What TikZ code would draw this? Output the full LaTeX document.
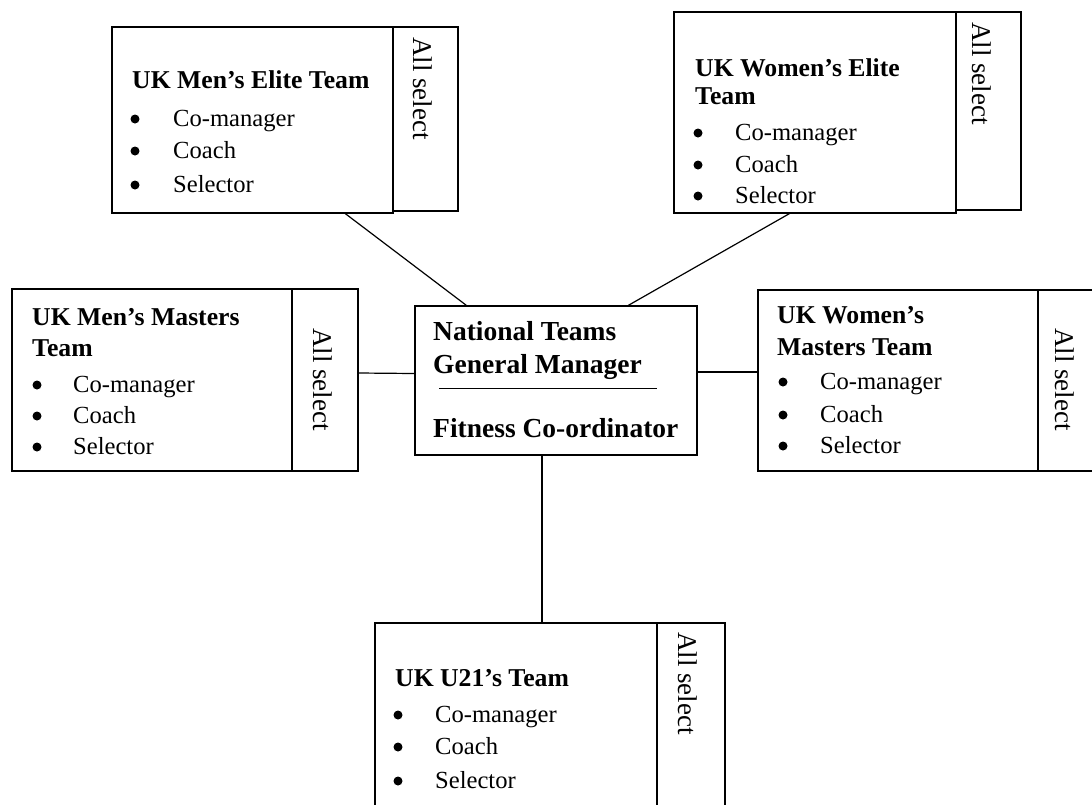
\documentclass[tikz,border=0pt]{standalone}
\usepackage{fontspec}
\setmainfont{Liberation Serif}
\usetikzlibrary{calc}
\tikzset{
  teambox/.style={draw, line width=1.3pt, inner sep=0pt},
  link/.style={line width=1.2pt},
  divline/.style={line width=1.4pt},
  headtxt/.style={font=\fontsize{25.7}{28}\selectfont\bfseries, anchor=base west, inner sep=0pt},
  itemtxt/.style={font=\fontsize{24.6}{28}\selectfont, anchor=base west, inner sep=0pt},
  ctrtxt/.style={font=\fontsize{27.5}{30}\selectfont\bfseries, anchor=base west, inner sep=0pt},
  vertxt/.style={font=\fontsize{27}{30}\selectfont, rotate=-90, anchor=west, inner sep=0pt},
  bul/.style={fill=black}
}
\begin{document}
\begin{tikzpicture}[x=1pt,y=-1pt]
\fill[white] (0,0) rectangle (1092,804);
\useasboundingbox (0,0) rectangle (1092,804);
\clip (0,0) rectangle (1092,804);

% ---------- boxes ----------
\node[teambox, minimum width=281pt, minimum height=186pt] (me) at (252.5,120) {};
\node[teambox, minimum width=65pt, minimum height=184pt] (mes) at (425.5,119) {};
\node[teambox, minimum width=282pt, minimum height=201pt] (we) at (815,112.5) {};
\node[teambox, minimum width=65pt, minimum height=198pt] (wes) at (988.5,111) {};
\node[teambox, minimum width=280pt, minimum height=182pt] (mm) at (152,380) {};
\node[teambox, minimum width=66pt, minimum height=182pt] (mms) at (325,380) {};
\node[teambox, minimum width=282pt, minimum height=149pt] (ctr) at (556,380.5) {};
\node[teambox, minimum width=280pt, minimum height=181pt] (wm) at (898,380.5) {};
\node[teambox, minimum width=66pt, minimum height=181pt] (wms) at (1071,380.5) {};
\node[teambox, minimum width=282pt, minimum height=197pt] (u21) at (516,721.5) {};
\node[teambox, minimum width=68pt, minimum height=197pt] (u21s) at (691,721.5) {};

% ---------- connectors ----------
\draw[link] ([xshift=234pt]me.south west) -- ([xshift=52pt]ctr.north west);
\draw[link] ([xshift=116pt]we.south west) -- ([xshift=214pt]ctr.north west);
\draw[link] ([yshift=7pt]mms.east) -- ([yshift=7pt]ctr.west);
\draw[link] ([yshift=8.5pt]ctr.east) -- ([yshift=8.5pt]wm.west);
\draw[link] ([xshift=-14pt]ctr.south) -- ([xshift=26pt]u21.north);

% ---------- central box ----------
\node[ctrtxt] (c1) at (433,340) {National Teams};
\node[ctrtxt] (c2) at (433,373) {General Manager};
\draw[divline] ($(ctr.north west)+(25,83)$) -- ++(218,0);
\node[ctrtxt] (c3) at (433,437) {Fitness Co-ordinator};

% ---------- UK Men's Elite ----------
\node[headtxt] (meh) at (132,88) {UK Men’s Elite Team};
\fill[bul] (135,119) circle (4.5pt);
\fill[bul] (135,151) circle (4.5pt);
\fill[bul] (135,185) circle (4.5pt);
\node[itemtxt] (me1) at (173,126) {Co-manager};
\node[itemtxt] (me2) at (173,158) {Coach};
\node[itemtxt] (me3) at (173,192) {Selector};
\node[vertxt] (mev) at (423,37) {All select};

% ---------- UK Women's Elite ----------
\node[headtxt] (weh1) at (695,76) {UK Women’s Elite};
\node[headtxt] (weh2) at (695,104) {Team};
\fill[bul] (698,133) circle (4.5pt);
\fill[bul] (698,165) circle (4.5pt);
\fill[bul] (698,196) circle (4.5pt);
\node[itemtxt] (we1) at (735,140) {Co-manager};
\node[itemtxt] (we2) at (735,172) {Coach};
\node[itemtxt] (we3) at (735,203) {Selector};
\node[vertxt] (wev) at (982,22) {All select};

% ---------- UK Men's Masters ----------
\node[headtxt] (mmh1) at (32,325) {UK Men’s Masters};
\node[headtxt] (mmh2) at (32,356) {Team};
\fill[bul] (37,385) circle (4.5pt);
\fill[bul] (37,416) circle (4.5pt);
\fill[bul] (37,447) circle (4.5pt);
\node[itemtxt] (mm1) at (73,392) {Co-manager};
\node[itemtxt] (mm2) at (73,423) {Coach};
\node[itemtxt] (mm3) at (73,454) {Selector};
\node[vertxt] (mmv) at (323,328) {All select};

% ---------- UK Women's Masters ----------
\node[headtxt] (wmh1) at (777,323) {UK Women’s};
\node[headtxt] (wmh2) at (777,355) {Masters Team};
\fill[bul] (783,382) circle (4.5pt);
\fill[bul] (783,415) circle (4.5pt);
\fill[bul] (783,446) circle (4.5pt);
\node[itemtxt] (wm1) at (820,389) {Co-manager};
\node[itemtxt] (wm2) at (820,422) {Coach};
\node[itemtxt] (wm3) at (820,453) {Selector};
\node[vertxt] (wmv) at (1065,328) {All select};

% ---------- UK U21's ----------
\node[headtxt] (uh) at (395,686) {UK U21’s Team};
\fill[bul] (398,715) circle (4.5pt);
\fill[bul] (398,747) circle (4.5pt);
\fill[bul] (398,781) circle (4.5pt);
\node[itemtxt] (u1) at (435,722) {Co-manager};
\node[itemtxt] (u2) at (435,754) {Coach};
\node[itemtxt] (u3) at (435,788) {Selector};
\node[vertxt] (uv) at (688,632) {All select};
\end{tikzpicture}
\end{document}
